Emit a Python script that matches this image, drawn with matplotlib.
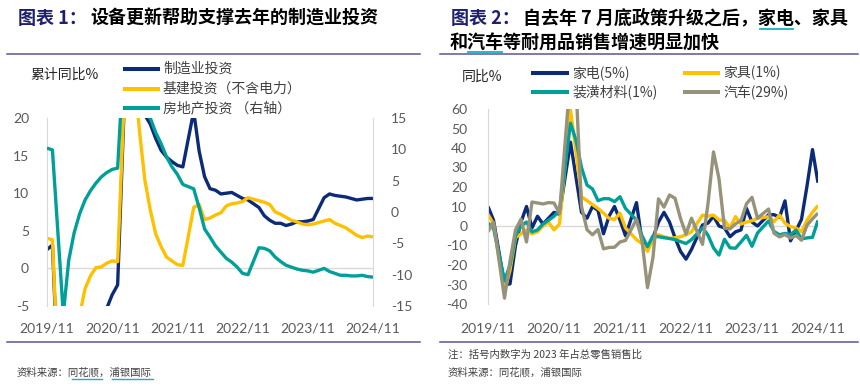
import numpy as np
import matplotlib
matplotlib.use('Agg')
import matplotlib.pyplot as plt
from matplotlib.lines import Line2D

plt.rcParams['font.family'] = ['Noto Sans CJK SC', 'DejaVu Sans']
plt.rcParams['axes.unicode_minus'] = False

nan = np.nan
# ---------------- data (monthly, 2019/11 - 2024/11; January not published) -------------
tick_labels = ['2019/11', '2020/11', '2021/11', '2022/11', '2023/11', '2024/11']

# chart 1: cumulative YoY %
manufacturing = [2.5, 3.1, nan, -31.5, -25.2, -18.8, -14.8, -11.7, -10.2, -8.1, -6.5, -5.3, -3.5, -2.2,
                 nan, 37.3, 29.8, 23.8, 20.4, 19.2, 17.3, 15.7, 14.8, 14.2, 13.7, 13.5,
                 nan, 20.9, 15.6, 12.2, 10.6, 10.4, 9.9, 10.0, 10.1, 9.7, 9.3, 9.1,
                 nan, 8.1, 7.0, 6.4, 6.0, 6.0, 5.7, 5.9, 6.2, 6.2, 6.3, 6.5,
                 nan, 9.4, 9.9, 9.7, 9.6, 9.5, 9.3, 9.1, 9.2, 9.3, 9.3]
infrastructure = [4.0, 3.8, nan, -30.3, -19.7, -11.8, -6.3, -2.7, -1.0, 0.1, 0.2, 0.7, 1.0, 0.9,
                  nan, 36.6, 26.8, 18.4, 11.8, 7.8, 4.6, 2.9, 1.5, 1.0, 0.5, 0.4,
                  nan, 8.1, 8.5, 6.5, 6.7, 7.1, 7.4, 8.3, 8.6, 8.7, 8.9, 9.4,
                  nan, 9.0, 8.8, 8.5, 7.5, 7.2, 6.8, 6.4, 6.2, 5.9, 5.8, 5.9,
                  nan, 6.3, 6.5, 6.0, 5.7, 5.4, 4.9, 4.4, 4.1, 4.3, 4.2]
real_estate = [10.2, 9.9, nan, -16.3, -7.7, -3.3, -0.3, 1.9, 3.4, 4.6, 5.6, 6.3, 6.8, 7.0,
               nan, 38.3, 25.6, 21.6, 18.3, 15.0, 12.7, 10.9, 8.8, 7.2, 6.0, 4.4,
               nan, 3.7, 0.7, -2.7, -4.0, -5.4, -6.4, -7.4, -8.0, -8.8, -9.8, -10.0,
               nan, -5.7, -5.8, -6.2, -7.2, -7.9, -8.5, -8.8, -9.1, -9.3, -9.4, -9.6,
               nan, -9.0, -9.5, -9.8, -10.1, -10.1, -10.2, -10.2, -10.1, -10.3, -10.4]
names1 = ['制造业投资', '基建投资（不含电力）', '房地产投资 （右轴）']

# chart 2: monthly retail sales YoY %
appliances = [10, 3, nan, -30, -29.7, -10, 2, 10, -1, 5, 1, 4, 7, 6,
              nan, 43, 25, 7, 4, 10, 8, -4, 5, 10, 3, -5,
              nan, 12, -8, -11, -6, 2, 7, 2, -6, -13, -17, -12,
              nan, 0.5, 1.5, 5, 0, -1, -5.5, -3, -2, 9, 2, 0,
              nan, 5.7, 5.8, 4.5, 12.9, -7.6, -2.4, 3.4, 20.5, 39.2, 22.2]
furniture = [6, 1, nan, -33.5, -22.7, -6, -4, -2, -4, -3, 0, 2, -2, 1,
             nan, 59.5, 38, 15, 13, 11, 9, 6.6, 4, 3.3, 6.6, -1,
             nan, -7, -9, -13, -7, -4.5, -5.5, -6.4, -6, -5.5, -4.5, -3,
             nan, 5.6, 5, 5.6, 3, 3, -1, 4.8, 1, 2, 2.7, 3.9,
             nan, 4.8, 2.2, 5.6, 1.4, -0.3, -1, -3, 3, 7, 10.5]
decoration = [1.5, -1, nan, -28, -20, -5, 0, 2, -3, -2, 1, 3, 5, 8,
              nan, 52.7, 44, 30, 21, 19, 13, 14, 14, 12.5, 15, 9,
              nan, 3, -5, -10.6, -5, -5.5, -6, -6.4, -7, -8, -9, -7,
              nan, -0.9, -4.7, -11.2, -14.9, -6.8, -11.2, -11.4, -8.2, -4.8, -10.4, -3.6,
              nan, 2.6, -2.8, -4.5, -3.8, -4.4, -2.1, -6.6, -6.1, -5.8, 2.9]
autos = [-3, 2, nan, -37, -18.1, -2, 3.5, -8.2, 12.3, 11.8, 11.3, 12, 11.8, 6.4,
         nan, 77.6, 72.3, 10.1, -1.9, -4.5, -1.8, -11.7, -11.0, -10.9, -8.2, -7.4,
         nan, 3.5, -7.5, -31.6, -16.0, 13.9, 9.7, 15.9, 14.2, 3.9, -4.2, 4,
         nan, -9.4, 11.5, 38.0, 24.2, -1.1, -1.5, 1.1, 2.8, 11.4, 14.7, 4.0,
         nan, 8.7, -3.7, -5.6, -4.4, -6.2, -4.9, -7.3, 0.4, 3.7, 6.6]
names2 = ['家电(5%)', '家具(1%)', '装潢材料(1%)', '汽车(29%)']

# ---------------- style ----------------
NAVY = '#0B2A78'
YELLOW = '#FFC000'
TEAL = '#00A099'
KHAKI = '#96937A'
GRID = '#D9D9D9'
TICK = '#595959'
TXT = '#404040'
SEP = '#5B5597'
LINK = '#1AAFC4'
LW = 2.4
NUMFONT = ['Lato', 'DejaVu Sans']

W, H = 860, 391
fig = plt.figure(figsize=(8.6, 3.91), dpi=100)


def fx(px):
    return px / W


def fy(py):
    return 1 - py / H


def axes_px(x0, x1, y0, y1):
    return fig.add_axes([fx(x0), fy(y1), fx(x1) - fx(x0), fy(y0) - fy(y1)])


x = np.arange(61)
xticks = np.arange(0, 61, 12)


def draw(ax, vals, color):
    v = np.asarray(vals, float)
    m = ~np.isnan(v)
    ax.plot(x[m], v[m], color=color, lw=LW, solid_joinstyle='round', solid_capstyle='butt')


def style_axis(ax):
    for s in ax.spines.values():
        s.set_visible(False)
    ax.tick_params(length=0, labelcolor=TICK, labelsize=10)
    ax.set_facecolor('none')


# ---------------- chart 1 ----------------
ax1 = axes_px(47, 373, 118, 306)
style_axis(ax1)
ax1.spines['left'].set_visible(True)
ax1.spines['left'].set_color(GRID)
ax1.axhline(0, color=GRID, lw=1.0, zorder=0)
draw(ax1, manufacturing, NAVY)
draw(ax1, infrastructure, YELLOW)
ax1.set_xlim(0, 60)
ax1.set_ylim(-5, 20)
lt = [-5, 0, 5, 10, 15, 20]
ax1.set_yticks(lt)
ax1.set_yticklabels([str(t) for t in lt], fontfamily=NUMFONT)
ax1.set_xticks(xticks)
ax1.set_xticklabels(tick_labels, fontfamily=NUMFONT)
ax1.tick_params(axis='y', pad=13)
ax1.tick_params(axis='x', pad=12)

ax1b = ax1.twinx()
style_axis(ax1b)
ax1b.spines['right'].set_visible(True)
ax1b.spines['right'].set_color(GRID)
draw(ax1b, real_estate, TEAL)
ax1b.set_ylim(-15, 15)
rt = [-15, -10, -5, 0, 5, 10, 15]
ax1b.set_yticks(rt)
ax1b.set_yticklabels([str(t) for t in rt], fontfamily=NUMFONT)
ax1b.tick_params(axis='y', pad=13)
ax1b.set_xlim(0, 60)

# ---------------- chart 2 ----------------
ax2 = axes_px(488, 818, 109, 304)
style_axis(ax2)
ax2.spines['left'].set_visible(True)
ax2.spines['left'].set_color(GRID)
ax2.axhline(0, color=GRID, lw=1.0, zorder=0)
draw(ax2, appliances, NAVY)
draw(ax2, furniture, YELLOW)
draw(ax2, decoration, TEAL)
draw(ax2, autos, KHAKI)
ax2.set_xlim(0, 60)
ax2.set_ylim(-40, 60)
t2 = list(range(-40, 61, 10))
ax2.set_yticks(t2)
ax2.set_yticklabels([str(t) for t in t2], fontfamily=NUMFONT)
ax2.set_xticks(xticks)
ax2.set_xticklabels(tick_labels, fontfamily=NUMFONT)
ax2.tick_params(axis='y', pad=15)
ax2.tick_params(axis='x', pad=13)

# ---------------- titles ----------------
TCOL = '#1F1F70'
fig.text(fx(18), fy(18), '图表 1：', color=TCOL, fontsize=13, fontweight='bold', va='center', ha='left')
fig.text(fx(90), fy(18), '设备更新帮助支撑去年的制造业投资', color='black', fontsize=13,
         fontweight='bold', va='center', ha='left')
fig.text(fx(451), fy(18), '图表 2：', color=TCOL, fontsize=13, fontweight='bold', va='center', ha='left')
fig.text(fx(523), fy(18), '自去年 7 月底政策升级之后，家电、家具', color='black', fontsize=13,
         fontweight='bold', va='center', ha='left')
fig.text(fx(450), fy(43), '和汽车等耐用品销售增速明显加快', color='black', fontsize=13,
         fontweight='bold', va='center', ha='left')


def hline(x0, x1, y, color, lw):
    fig.add_artist(Line2D([fx(x0), fx(x1)], [fy(y), fy(y)], color=color, lw=lw,
                          transform=fig.transFigure))


hline(760, 793, 28.5, LINK, 1.3)
hline(468, 502, 52, LINK, 1.3)

# separators
hline(7, 420, 53.5, SEP, 1.1)
hline(7, 420, 342, SEP, 1.1)
hline(440, 858, 53.5, SEP, 1.1)
hline(440, 858, 342, SEP, 1.1)

# axis unit labels
fig.text(fx(30), fy(75), '累计同比%', color='#262626', fontsize=10, va='center', ha='left')
fig.text(fx(462), fy(77), '同比%', color='#262626', fontsize=10, va='center', ha='left')

# legends
for (yy, col, name) in zip([69, 89, 108], [NAVY, YELLOW, TEAL], names1):
    hline(125, 158, yy, col, 2.9)
    fig.text(fx(163), fy(yy), name, color=TXT, fontsize=10, va='center', ha='left')

pos2 = [(533, 567, 572, 72.5), (685, 718, 723, 72.5), (533, 567, 572, 92), (685, 718, 723, 92)]
for (p, col, name) in zip(pos2, [NAVY, YELLOW, TEAL, KHAKI], names2):
    hline(p[0], p[1], p[3], col, 2.9)
    fig.text(fx(p[2]), fy(p[3]), name, color=TXT, fontsize=10, va='center', ha='left')

# footers
fig.text(fx(17), fy(372), '资料来源：同花顺，浦银国际', color=TXT, fontsize=7.5, va='center', ha='left')
hline(72, 102, 379, LINK, 1.0)
hline(112, 153, 379, LINK, 1.0)
fig.text(fx(448), fy(354), '注：括号内数字为 2023 年占总零售销售比', color=TXT, fontsize=7.5, va='center', ha='left')
fig.text(fx(448), fy(372), '资料来源：同花顺，浦银国际', color=TXT, fontsize=7.5, va='center', ha='left')

fig.savefig('out.png', dpi=100)
